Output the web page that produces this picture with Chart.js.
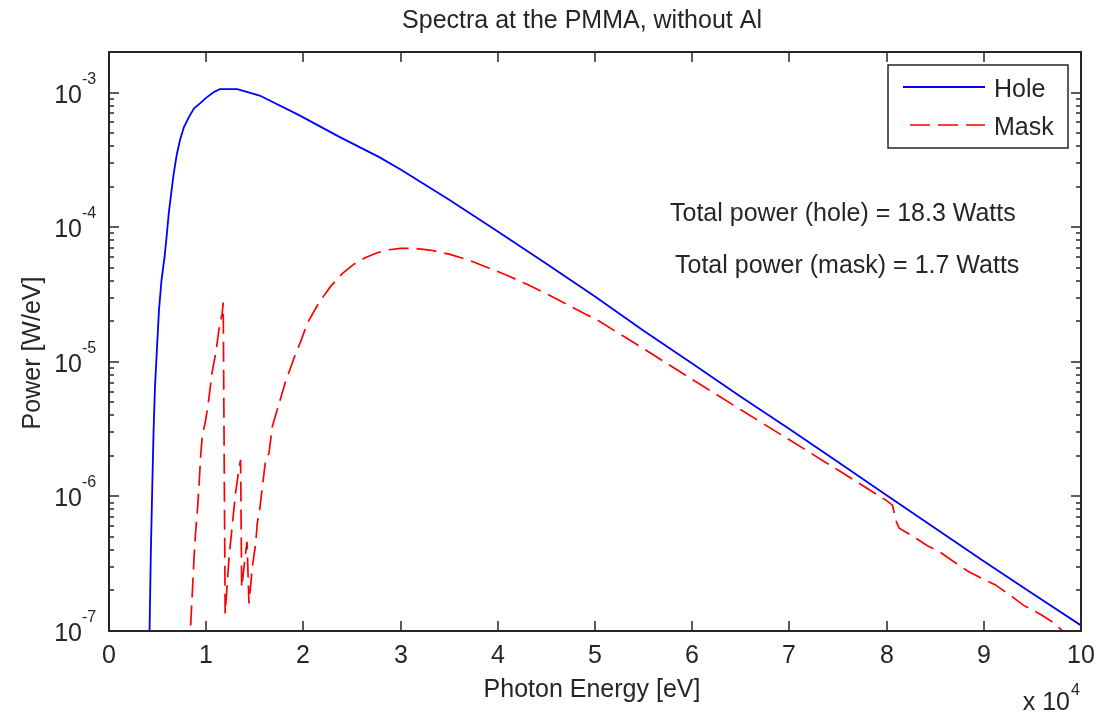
<!DOCTYPE html>
<html>
<head>
<meta charset="utf-8">
<title>Spectra at the PMMA, without Al</title>
<script src="https://cdn.jsdelivr.net/npm/chart.js@4.4.1/dist/chart.umd.min.js"></script>
<style>
  html, body { margin: 0; padding: 0; background: #fff; }
  #wrap { width: 1097px; height: 713px; }
</style>
</head>
<body>
<div id="wrap"><canvas id="spectra-chart" width="1097" height="713"></canvas></div>
<script>
// Spectra at the PMMA
// Photon energy in eV, power in W/eV

const holeEnergy = [
  4150, 4300, 4450, 4580, 4730, 4940, 5140, 5400, 5710, 5940, 6150, 6400,
  6660, 6960, 7300, 7700, 8230, 8750, 9360, 10050, 10800, 11400, 13200,
  15500, 19600, 23700, 27800, 30000, 35000, 40000, 45000, 50000, 55000,
  60000, 65000, 70000, 75000, 80000, 85000, 90000, 95000, 100000,
];
const holePower = [
  8e-8, 3.65e-7, 1.17e-6, 2.94e-6, 6.47e-6, 1.28e-5, 2.41e-5, 4.03e-5,
  5.97e-5, 8.7e-5, 1.27e-4, 1.79e-4, 2.51e-4, 3.42e-4, 4.42e-4, 5.52e-4,
  6.6e-4, 7.64e-4, 8.3e-4, 9.2e-4, 1.01e-3, 1.06e-3, 1.06e-3, 9.5e-4,
  6.76e-4, 4.68e-4, 3.31e-4, 2.68e-4, 1.6e-4, 9.3e-5, 5.35e-5, 3.05e-5,
  1.7e-5, 9.7e-6, 5.5e-6, 3.16e-6, 1.8e-6, 1.02e-6, 5.8e-7, 3.3e-7, 1.9e-7,
  1.1e-7,
];

const maskEnergy = [
  8400, 8600, 8750, 8900, 9100, 9250, 9450, 9600, 9950, 10300, 10600, 11000,
  11300, 11650, 11750, 11950, 12350, 12700, 13030, 13370, 13540, 13650,
  14000, 14200, 14400, 14750, 15100, 15250, 15500, 15770, 16120, 16460,
  16800, 17500, 18200, 18700, 19200, 19700, 20400, 21600, 22800, 24000,
  25200, 26400, 27600, 28800, 30000, 31500, 33000, 35000, 37000, 39000,
  41000, 43000, 45000, 47000, 49000, 50000, 55000, 60000, 65000, 70000,
  75000, 80000, 80600, 81000, 81300, 82600, 84200, 85400, 87100, 88500,
  90200, 91200, 92900, 94100, 95900, 97200, 98100, 100000,
];
const maskPower = [
  1.1e-7, 2.1e-7, 3.5e-7, 5.3e-7, 7.9e-7, 1.17e-6, 2.1e-6, 2.8e-6, 3.7e-6,
  5.5e-6, 8.3e-6, 1.18e-5, 1.72e-5, 2.3e-5, 2.75e-5, 1.35e-7, 3.5e-7, 6.3e-7,
  1.07e-6, 1.6e-6, 1.87e-6, 2.1e-7, 3.5e-7, 4.6e-7, 1.6e-7, 3.0e-7, 4.5e-7,
  6.3e-7, 7.9e-7, 1.17e-6, 1.87e-6, 2.1e-6, 3.3e-6, 4.9e-6, 7.3e-6, 9.1e-6,
  1.15e-5, 1.4e-5, 1.93e-5, 2.75e-5, 3.63e-5, 4.52e-5, 5.31e-5, 5.96e-5,
  6.46e-5, 6.79e-5, 6.95e-5, 6.95e-5, 6.76e-5, 6.3e-5, 5.69e-5, 5.0e-5,
  4.37e-5, 3.76e-5, 3.2e-5, 2.69e-5, 2.26e-5, 2.09e-5, 1.25e-5, 7.4e-6,
  4.4e-6, 2.63e-6, 1.57e-6, 9.3e-7, 8.6e-7, 6.5e-7, 5.8e-7, 5.1e-7, 4.3e-7,
  3.9e-7, 3.2e-7, 2.74e-7, 2.38e-7, 2.2e-7, 1.8e-7, 1.55e-7, 1.32e-7,
  1.15e-7, 1.0e-7, 7.5e-8,
];

const seriesLabels = ["Hole", "Mask"];
const xTickValues = [0, 10000, 20000, 30000, 40000, 50000, 60000, 70000, 80000, 90000, 100000];
const xTickLabels = ["0", "1", "2", "3", "4", "5", "6", "7", "8", "9", "10"];
const yTickValues = [1e-7, 1e-6, 1e-5, 1e-4, 1e-3];
const yTickExponents = ["-7", "-6", "-5", "-4", "-3"];
const powerNotes = ["Total power (hole) = 18.3 Watts", "Total power (mask) = 1.7 Watts"];

const FONT = '"Liberation Sans", Arial, sans-serif';
const INK = "#262626";

function toPoints(xs, ys) {
  return xs.map(function (v, i) {
    return { x: v, y: ys[i] };
  });
}

// draws the MATLAB style box, ticks, labels, legend and notes
const matlabAxes = {
  id: "matlabAxes",
  afterDraw: function (chart) {
    const ctx = chart.ctx;
    const a = chart.chartArea;
    const xs = chart.scales.x;
    const ys = chart.scales.y;

    function seg(x1, y1, x2, y2) {
      ctx.beginPath();
      ctx.moveTo(x1, y1);
      ctx.lineTo(x2, y2);
      ctx.stroke();
    }

    ctx.save();
    ctx.strokeStyle = INK;
    ctx.fillStyle = INK;

    // x ticks (bottom and top)
    ctx.lineWidth = 1.5;
    ctx.font = "25px " + FONT;
    ctx.textAlign = "center";
    ctx.textBaseline = "alphabetic";
    xTickValues.forEach(function (v, i) {
      const px = Math.round(xs.getPixelForValue(v));
      seg(px, a.bottom, px, a.bottom - 10);
      seg(px, a.top, px, a.top + 10);
      ctx.fillText(xTickLabels[i], px, a.bottom + 32);
    });

    // y ticks, major and minor, left and right
    yTickValues.forEach(function (v, i) {
      const py = Math.round(ys.getPixelForValue(v));
      seg(a.left, py, a.left + 10, py);
      seg(a.right, py, a.right - 10, py);
      for (let m = 2; m <= 9; m++) {
        const mv = v * m;
        if (mv > ys.max) break;
        const mp = Math.round(ys.getPixelForValue(mv));
        seg(a.left, mp, a.left + 5, mp);
        seg(a.right, mp, a.right - 5, mp);
      }
      ctx.font = "25px " + FONT;
      ctx.textAlign = "right";
      ctx.fillText("10", a.left - 27, py + 10);
      ctx.font = "16px " + FONT;
      ctx.textAlign = "left";
      ctx.fillText(yTickExponents[i], a.left - 27, py - 9);
    });

    // box
    ctx.lineWidth = 2;
    ctx.strokeRect(a.left, a.top, a.right - a.left, a.bottom - a.top);

    // x 10^4 multiplier
    ctx.font = "25px " + FONT;
    ctx.textAlign = "right";
    ctx.fillText("x 10", a.right - 11, 710);
    ctx.font = "16px " + FONT;
    ctx.textAlign = "left";
    ctx.fillText("4", a.right - 10, 695);

    // title and axis titles
    ctx.font = "25px " + FONT;
    ctx.textAlign = "center";
    ctx.fillText("Spectra at the PMMA, without Al", 582, 28);
    ctx.fillText("Photon Energy [eV]", 592, 697);
    ctx.save();
    ctx.translate(40, 353);
    ctx.rotate(-Math.PI / 2);
    ctx.fillText("Power [W/eV]", 0, 0);
    ctx.restore();

    // notes
    ctx.textAlign = "left";
    ctx.fillText(powerNotes[0], 670, 221);
    ctx.fillText(powerNotes[1], 675, 273);

    // legend
    const lx = 888, ly = 65, lw = 180, lh = 83;
    ctx.fillStyle = "#fff";
    ctx.fillRect(lx, ly, lw, lh);
    ctx.lineWidth = 1.5;
    ctx.strokeStyle = INK;
    ctx.strokeRect(lx, ly, lw, lh);
    chart.data.datasets.forEach(function (ds, i) {
      const yy = ly + 22 + i * 38;
      ctx.strokeStyle = ds.borderColor;
      ctx.lineWidth = ds.borderWidth;
      ctx.setLineDash(ds.borderDash || []);
      seg(ds.borderDash ? 910 : 903, yy, 985, yy);
      ctx.setLineDash([]);
      ctx.fillStyle = INK;
      ctx.font = "25px " + FONT;
      ctx.fillText(ds.label, 994, yy + 10);
    });

    ctx.restore();
  },
};

const spectraCanvas = document.getElementById("spectra-chart");
const spectraChart = new Chart(spectraCanvas.getContext("2d"), {
  type: "line",
  data: {
    datasets: [
      {
        label: seriesLabels[0],
        data: toPoints(holeEnergy, holePower),
        borderColor: "#0000ff",
        borderWidth: 1.8,
        pointRadius: 0,
        tension: 0,
        fill: false,
      },
      {
        label: seriesLabels[1],
        data: toPoints(maskEnergy, maskPower),
        borderColor: "#ff0000",
        borderWidth: 1.7,
        borderDash: [20, 8],
        pointRadius: 0,
        tension: 0,
        fill: false,
      },
    ],
  },
  options: {
    responsive: false,
    animation: false,
    layout: {
      padding: { left: 109, top: 52, right: 16, bottom: 82 },
    },
    plugins: {
      legend: { display: false },
      tooltip: { enabled: false },
      title: { display: false },
    },
    scales: {
      x: { type: "linear", min: 0, max: 100000, display: false },
      y: { type: "logarithmic", min: 1e-7, max: 2e-3, display: false },
    },
  },
  plugins: [matlabAxes],
});
</script>
</body>
</html>
